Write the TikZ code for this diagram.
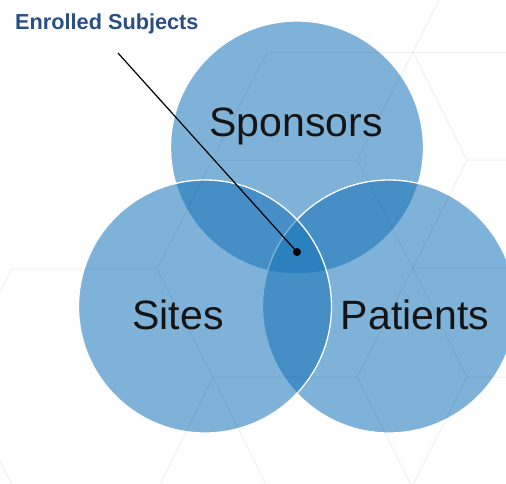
\documentclass[tikz,border=0pt]{standalone}
\usepackage{fontspec}
\setmainfont{Liberation Sans}
\definecolor{vennblue}{RGB}{22,116,184}
\definecolor{captionblue}{RGB}{42,79,134}
\begin{document}
\begin{tikzpicture}[x=1pt,y=-1pt,
  setdisc/.style={circle, inner sep=0pt, minimum size=253pt,
    fill=vennblue, fill opacity=0.55, draw=white, line width=1.3pt},
  setlabel/.style={anchor=base, inner sep=0pt, text=black!92,
    font=\fontsize{41}{41}\selectfont},
  caption/.style={anchor=base west, inner sep=0pt, text=captionblue,
    font=\bfseries\fontsize{21.7}{22}\selectfont},
  hexline/.style={draw=black, draw opacity=0.055, line width=1pt},
  leader/.style={draw=black, line width=1.2pt},
  coredot/.style={circle, fill=black, inner sep=0pt, minimum size=8pt}]

  % page frame
  \fill[white] (0,0) rectangle (506,483);
  \useasboundingbox (0,0) rectangle (506,483);

  % the three sets, back to front
  \node[setdisc] (sponsors) at (297,147.5) {};
  \node[setdisc] (patients) at (389,306.5) {};
  \node[setdisc] (sites)    at (205,306.5) {};

  % faint hexagon mesh in the background
  \draw[hexline] (267,52) -- (506,52);
  \draw[hexline] (413,52) -- (440,-2);
  \draw[hexline] (413,52) -- (467,160) -- (506,160);
  \draw[hexline] (413,52) -- (357,160) -- (413,268);
  \draw[hexline] (211,160) -- (357,160);
  \draw[hexline] (467,160) -- (413,268) -- (506,268);
  \draw[hexline] (267,52) -- (157,269);
  \draw[hexline] (-43,377) -- (12,269) -- (157,269) -- (213,377) -- (357,377) -- (413,268) -- (467,377) -- (506,377);
  \draw[hexline] (-43,377) -- (12,485);
  \draw[hexline] (213,377) -- (160,485);
  \draw[hexline] (213,377) -- (266,485);
  \draw[hexline] (357,377) -- (411,485);
  \draw[hexline] (467,377) -- (413,485);

  % set names
  \node[setlabel] (sponsorsname) at (296,136) {Sponsors};
  \node[setlabel] (sitesname)    at (178,329) {Sites};
  \node[setlabel] (patientsname) at (415,329) {Patients};

  % callout for the common region
  \node[caption] (enrolled) at (15,29) {Enrolled Subjects};
  \coordinate (leaderstart) at (118,53);
  \node[coredot] (core) at (297,252) {};
  \draw[leader] (leaderstart) -- (core.center);
\end{tikzpicture}
\end{document}
